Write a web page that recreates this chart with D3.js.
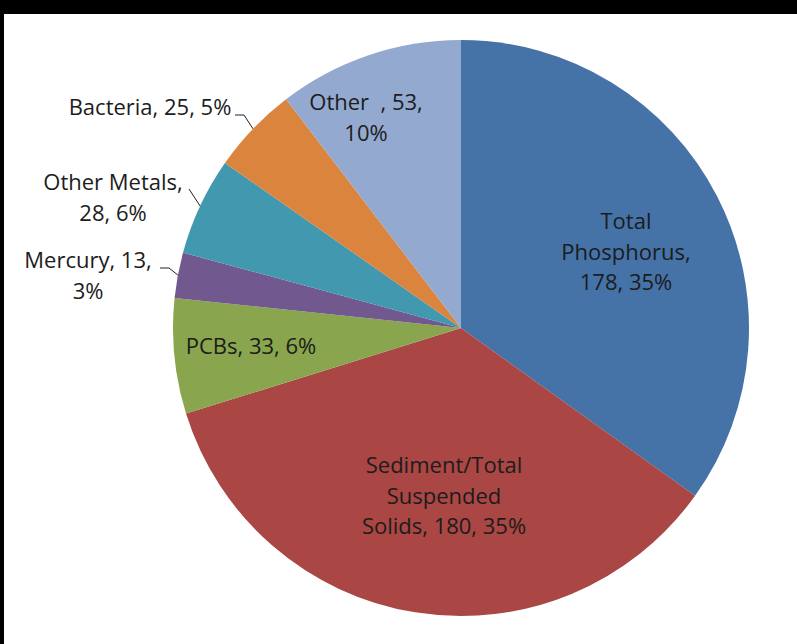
<!DOCTYPE html>
<html>
<head>
<meta charset="utf-8">
<script src="https://cdn.jsdelivr.net/npm/d3@7/dist/d3.min.js"></script>
<style>
  html, body { margin: 0; padding: 0; background: #fff; }
  svg { display: block; }
  text { font-family: "Open Sans", Lato, sans-serif; font-size: 22px; fill: #1c1c1c; white-space: pre; }
</style>
</head>
<body>
<svg></svg>
<script>
// slices, clockwise from 12 o'clock
const names = ["Total\nPhosphorus", "Sediment/Total\nSuspended\nSolids", "PCBs", "Mercury", "Other Metals", "Bacteria", "Other  "];
const values = [178, 180, 33, 13, 28, 25, 53];
const percents = ["35%", "35%", "6%", "3%", "6%", "5%", "10%"];
const colors = ["#4572a7", "#aa4643", "#89a54e", "#71588f", "#4198af", "#db843d", "#93a9cf"];

// label text lines (how Excel wrapped them)
const labelLines = [
    ["Total", "Phosphorus,", "178, 35%"],
    ["Sediment/Total", "Suspended", "Solids, 180, 35%"],
    ["PCBs, 33, 6%"],
    ["Mercury, 13,", "3%"],
    ["Other Metals,", "28, 6%"],
    ["Bacteria, 25, 5%"],
    ["Other  , 53,", "10%"]
];

const width = 797;
const height = 644;
const cx = 461;
const cy = 328;
const radius = 288;

// label centre offsets from pie centre, and leader elbows
const labelPos = [
    [165, -76], [-17, 168], [-210, 18], [-373, -52], [-348, -130], [-311, -221], [-95, -210]
];
const leaders = [
    null, null, null,
    {elbow: [-292, -60], end: [-301, -60]},
    {elbow: [-272, -139], end: [-272, -139]},
    {elbow: [-217, -213], end: [-226, -213]},
    null
];

const svg = d3.select("svg")
    .attr("width", width)
    .attr("height", height);

// black frame edges seen in the screenshot
svg.append("rect").attr("x", 0).attr("y", 0).attr("width", width).attr("height", 14).attr("fill", "#000");
svg.append("rect").attr("x", 0).attr("y", 0).attr("width", 4).attr("height", height).attr("fill", "#000");

const data = values.map((v, i) => ({name: names[i], value: v, pct: percents[i], i: i}));

const pie = d3.pie()
    .value(d => d.value)
    .sort(null);

const arc = d3.arc()
    .innerRadius(0)
    .outerRadius(radius);

const g = svg.append("g")
    .attr("transform", `translate(${cx},${cy})`);

const arcs = pie(data);

g.selectAll("path")
    .data(arcs)
    .enter()
    .append("path")
    .attr("d", arc)
    .attr("fill", d => colors[d.data.i]);

// leader lines from slice edge midpoint
arcs.forEach((a, i) => {
    const l = leaders[i];
    if (!l) return;
    const mid = (a.startAngle + a.endAngle) / 2;
    const px = radius * Math.sin(mid);
    const py = -radius * Math.cos(mid);
    g.append("polyline")
        .attr("points", [[px, py], l.elbow, l.end].map(p => p.join(",")).join(" "))
        .attr("fill", "none")
        .attr("stroke", "#222")
        .attr("stroke-width", 1);
});

const lineH = 30.5;
labelLines.forEach((lines, i) => {
    const [lx, ly] = labelPos[i];
    const t = g.append("text")
        .attr("text-anchor", "middle")
        .attr("x", lx)
        .attr("y", ly - (lines.length - 1) * lineH / 2);
    lines.forEach((s, j) => {
        t.append("tspan")
            .attr("x", lx)
            .attr("dy", j === 0 ? "0.35em" : lineH)
            .text(s);
    });
});
</script>
</body>
</html>
